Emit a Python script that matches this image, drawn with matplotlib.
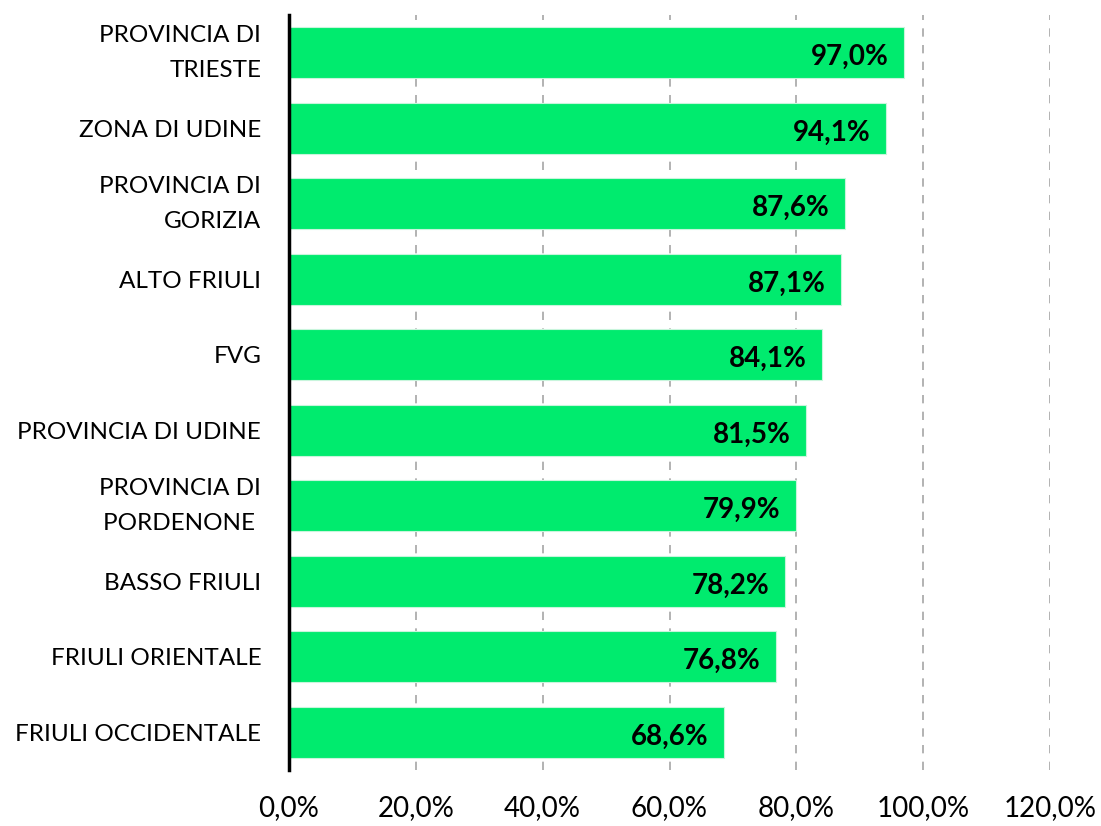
import matplotlib.pyplot as plt
from matplotlib.ticker import FuncFormatter

plt.rcParams['font.family'] = ['Lato', 'DejaVu Sans']

categorie = ['PROVINCIA DI\nTRIESTE', 'ZONA DI UDINE', 'PROVINCIA DI\nGORIZIA', 'ALTO FRIULI', 'FVG',
             'PROVINCIA DI UDINE', 'PROVINCIA DI\nPORDENONE ', 'BASSO FRIULI', 'FRIULI ORIENTALE',
             'FRIULI OCCIDENTALE']
valori = [97.0, 94.1, 87.6, 87.1, 84.1, 81.5, 79.9, 78.2, 76.8, 68.6]
tick_x = [0, 20, 40, 60, 80, 100, 120]

fig = plt.figure(figsize=(11.01, 8.26), dpi=100)
ax = fig.add_axes([289 / 1101, 56 / 826, (1050 - 289) / 1101, 755 / 826])

y = list(range(len(categorie)))
ax.barh(y, valori, height=0.68, color='#00EB6E', edgecolor='#c8f5dc', linewidth=0.8, zorder=3)

for yi, v in zip(y, valori):
    ax.text(v - 2.4, yi + 0.06, f'{v:.1f}%'.replace('.', ','), ha='right', va='center',
            fontsize=20, fontweight='bold', color='black', zorder=4)

ax.set_yticks(y)
ax.set_yticklabels(categorie, fontsize=17.5, linespacing=1.8)
for lab in ax.get_yticklabels():
    if '\n' in lab.get_text():
        lab.set_va('center')
ax.set_ylim(len(categorie) - 0.5, -0.5)
ax.set_xlim(0, 120)
ax.set_xticks(tick_x)
ax.xaxis.set_major_formatter(FuncFormatter(lambda x, p: f'{x:.1f}%'.replace('.', ',')))
ax.tick_params(axis='x', labelsize=20, length=0, pad=18)
ax.tick_params(axis='y', length=0, pad=20)

for t in tick_x[1:]:
    ax.axvline(t, color='#a6a6a6', linestyle=(0, (5, 5)), linewidth=1.2, zorder=1)

for s in ['top', 'right', 'bottom']:
    ax.spines[s].set_visible(False)
ax.spines['left'].set_linewidth(2.5)
ax.spines['left'].set_zorder(5)

fig.savefig('out.png', dpi=100)
